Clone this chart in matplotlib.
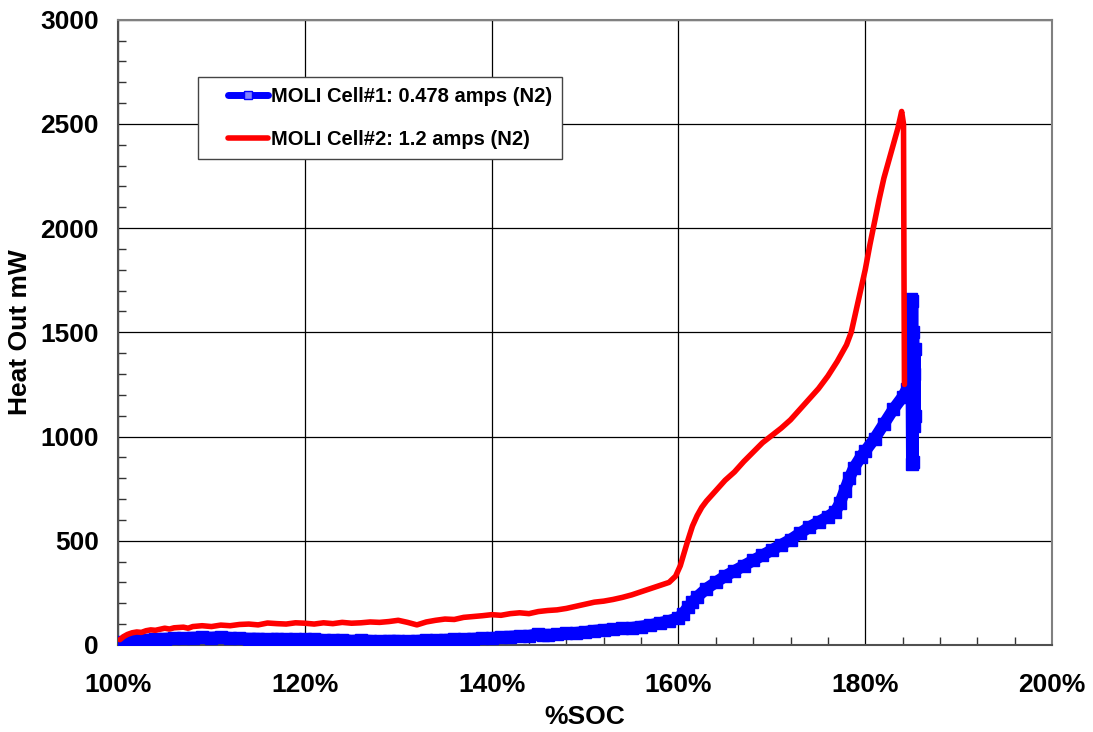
"""
plot.py

Heat output vs %SOC for two MOLI cells (overcharge test).
"""
import numpy as np
import matplotlib
matplotlib.use('Agg')
import matplotlib.pyplot as plt
from matplotlib.ticker import MultipleLocator, PercentFormatter
from matplotlib.legend_handler import HandlerLine2D

matplotlib.rcParams.update({'font.family': ['Liberation Sans', 'DejaVu Sans'],
                            'font.weight': 'bold', 'font.size': 19})

# --- data ---
label1 = 'MOLI Cell#1: 0.478 amps (N2)'
label2 = 'MOLI Cell#2: 1.2 amps (N2)'

soc2 = [100.2, 100.6, 101.0, 101.5, 102.0, 102.5, 103.0, 103.5, 104.0, 104.5,
        105.0, 105.5, 106.0, 107.0, 107.5, 108.0, 109.0, 110.0, 111.0, 112.0,
        113.0, 114.0, 115.0, 116.0, 117.0, 118.0, 119.0, 120.0, 121.0, 122.0,
        123.0, 124.0, 125.0, 126.0, 127.0, 128.0, 129.0, 130.0, 131.0, 132.0,
        133.0, 134.0, 135.0, 136.0, 137.0, 138.0, 139.0, 140.0, 141.0, 142.0,
        143.0, 144.0, 145.0, 146.0, 147.0, 148.0, 149.0, 150.0, 151.0, 152.0,
        153.0, 154.0, 155.0, 156.0, 157.0, 158.0, 159.0, 159.7, 160.2, 160.6,
        161.0, 161.5, 162.0, 162.5, 163.0, 164.0, 165.0, 166.0, 167.0, 168.0,
        169.0, 170.0, 171.0, 172.0, 173.0, 174.0, 175.0, 176.0, 177.0, 178.0,
        178.5, 179.0, 179.5, 180.0, 180.5, 181.0, 181.5, 182.0, 182.5, 183.0,
        183.5, 183.9, 184.1, 184.15, 184.2]
heat2 = [25, 40, 50, 58, 62, 60, 68, 72, 70, 75,
         80, 76, 82, 85, 80, 88, 92, 88, 95, 92,
         98, 100, 96, 105, 102, 100, 106, 104, 100, 106,
         102, 108, 104, 106, 110, 108, 112, 118, 108, 96,
         110, 118, 124, 122, 132, 136, 140, 145, 142, 150,
         154, 150, 160, 165, 168, 175, 185, 195, 205, 210,
         218, 228, 240, 255, 270, 285, 300, 330, 380, 440,
         500, 570, 620, 660, 690, 740, 790, 830, 880, 925,
         970, 1005, 1040, 1080, 1130, 1180, 1230, 1290, 1360, 1440,
         1500, 1600, 1700, 1800, 1920, 2030, 2140, 2240, 2320, 2400,
         2480, 2560, 2500, 1800, 1250]

soc1 = [100.0, 100.5, 101.0, 102.0, 103.0, 104.0, 105.0, 106.0, 107.0, 108.0,
        109.0, 110.0, 111.0, 112.0, 113.0, 114.0, 115.0, 116.0, 117.0, 118.0,
        119.0, 120.0, 121.0, 122.0, 123.0, 124.0, 125.0, 126.0, 127.0, 128.0,
        129.0, 130.0, 131.0, 132.0, 133.0, 134.0, 135.0, 136.0, 137.0, 138.0,
        139.0, 140.0, 141.0, 142.0, 143.0, 144.0, 145.0, 145.5, 146.0, 147.0,
        148.0, 149.0, 150.0, 151.0, 152.0, 153.0, 154.0, 155.0, 156.0, 157.0,
        158.0, 159.0, 160.0, 160.5, 161.0, 161.5, 162.0, 163.0, 164.0, 165.0,
        166.0, 167.0, 168.0, 169.0, 170.0, 171.0, 172.0, 173.0, 174.0, 175.0,
        176.0, 176.8, 177.3, 177.8, 178.3, 178.8, 179.5, 180.0, 181.0, 182.0,
        183.0, 184.0, 184.5, 184.8, 184.9, 185.0, 185.05, 185.1, 185.15, 185.25,
        185.3, 185.3, 185.2]
heat1 = [10, 15, 20, 22, 25, 28, 30, 32, 33, 35,
         36, 35, 38, 34, 32, 30, 30, 28, 30, 27,
         28, 26, 28, 24, 22, 24, 20, 22, 20, 18,
         20, 20, 18, 20, 22, 22, 25, 26, 28, 30,
         32, 34, 36, 40, 42, 44, 52, 46, 48, 50,
         55, 58, 62, 68, 72, 75, 80, 82, 88, 95,
         105, 115, 130, 150, 180, 205, 230, 270, 300, 330,
         355, 380, 405, 430, 455, 480, 505, 535, 565, 590,
         615, 640, 680, 740, 800, 850, 900, 930, 990, 1060,
         1130, 1190, 1230, 1280, 1660, 870, 1650, 880, 1500, 1050,
         1420, 1100, 1300]

fig = plt.figure(figsize=(10.93, 7.32), dpi=100)
ax = fig.add_axes([0.108, 0.119, 0.8545, 0.854])

ax.plot(soc1, heat1, color='#0000ff', lw=8.5, marker='s', ms=8,
        mfc='#0000ff', mec='#0000ff', mew=1, solid_joinstyle='round',
        solid_capstyle='round', label=label1, zorder=3)
ax.plot(soc2, heat2, color='#ff0000', lw=4, solid_joinstyle='round',
        solid_capstyle='round', label=label2, zorder=4)

ax.set_xlim(100, 200)
ax.set_ylim(0, 3000)
ax.xaxis.set_major_locator(MultipleLocator(20))
ax.xaxis.set_minor_locator(MultipleLocator(4))
ax.yaxis.set_major_locator(MultipleLocator(500))
ax.yaxis.set_minor_locator(MultipleLocator(100))
ax.xaxis.set_major_formatter(PercentFormatter(decimals=0))
ax.grid(True, which='major', color='black', lw=0.9)
ax.tick_params(which='both', direction='in', top=False, right=False, color='#333333')
ax.tick_params(which='major', length=0)
ax.tick_params(which='minor', length=6, width=1)
ax.tick_params(axis='x', pad=20)
ax.tick_params(axis='y', pad=14)
for s in ax.spines.values():
    s.set_color('#808080')
    s.set_linewidth(1.5)
ax.spines['left'].set_color('#505050')
ax.spines['bottom'].set_color('#505050')

ax.set_xlabel('%SOC', fontsize=19, fontweight='bold', labelpad=6)
ax.set_ylabel('Heat Out mW', fontsize=19, fontweight='bold', labelpad=6)

# shift the legend lines right, as in the original
hmap = {ln: HandlerLine2D(xpad=1.0) for ln in ax.get_lines()}
leg = ax.legend(loc='upper left', bbox_to_anchor=(0.0857, 0.9085), borderaxespad=0,
                fontsize=14.5, fancybox=False, framealpha=1, edgecolor='#444444',
                handlelength=2.95, handletextpad=0.15, labelspacing=1.2, borderpad=0.5,
                handler_map=hmap)
leg.get_frame().set_linewidth(1.0)
h1 = leg.legend_handles[0]
h1.set_linewidth(5)
h1.set_markersize(6)
h1.set_markerfacecolor('#8080ff')

fig.savefig('out.png', dpi=100)
